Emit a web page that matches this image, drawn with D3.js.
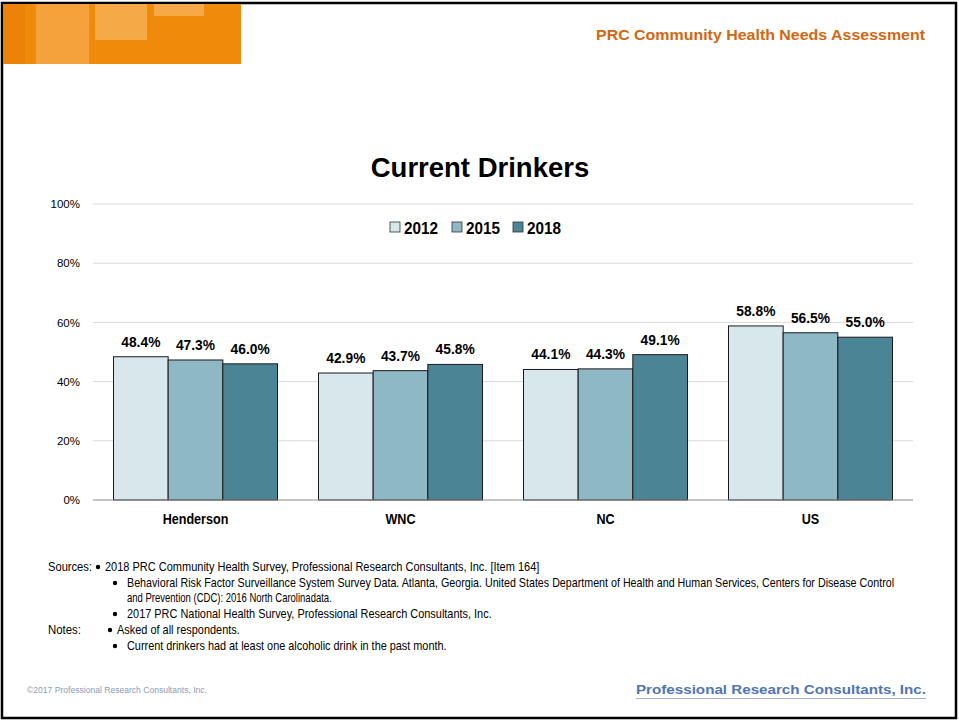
<!DOCTYPE html>
<html><head><meta charset="utf-8">
<script src="https://cdn.jsdelivr.net/npm/d3@7"></script>
<style>
html,body{margin:0;padding:0;background:#fff;}
svg{display:block;}
</style></head>
<body>
<svg id="c" width="959" height="721"></svg>
<script>
const categories = ["Henderson", "WNC", "NC", "US"];
const years = ["2012", "2015", "2018"];
const v2012 = [48.4, 42.9, 44.1, 58.8];
const v2015 = [47.3, 43.7, 44.3, 56.5];
const v2018 = [46.0, 45.8, 49.1, 55.0];
const yTicks = [0, 20, 40, 60, 80, 100];
const colors = ["#d8e7eb", "#8fb8c5", "#4b8495"];
const sourceHeads = ["Sources:", "", "", "", "Notes:", ""];
const sourceLines = [
  "2018 PRC Community Health Survey, Professional Research Consultants, Inc. [Item 164]",
  "Behavioral Risk Factor Surveillance System Survey Data. Atlanta, Georgia. United States Department of Health and Human Services, Centers for Disease Control",
  "and Prevention (CDC): 2016 North Carolinadata.",
  "2017 PRC National Health Survey, Professional Research Consultants, Inc.",
  "Asked of all respondents.",
  "Current drinkers had at least one alcoholic drink in the past month."
];
const sourceBullets = [true, true, false, true, true, true];

const series = [v2012, v2015, v2018];
const SANS = "'Liberation Sans',Arial,sans-serif";
const svg = d3.select("#c");

// page border
svg.append("rect").attr("x", 2).attr("y", 3).attr("width", 954).attr("height", 715)
  .attr("fill", "none").attr("stroke", "#000").attr("stroke-width", 2.5);

// header orange block
const hdr = svg.append("g");
hdr.append("rect").attr("x", 3).attr("y", 4).attr("width", 238).attr("height", 60).attr("fill", "#ef8a0a");
hdr.append("rect").attr("x", 36).attr("y", 4).attr("width", 53).attr("height", 60).attr("fill", "#f6a94d").attr("opacity", 0.75);
hdr.append("rect").attr("x", 95).attr("y", 4).attr("width", 52).attr("height", 36).attr("fill", "#f8b45c").attr("opacity", 0.75);
hdr.append("rect").attr("x", 154).attr("y", 4).attr("width", 50).attr("height", 12).attr("fill", "#f8b45c").attr("opacity", 0.75);
hdr.append("rect").attr("x", 3).attr("y", 4).attr("width", 22).attr("height", 60).attr("fill", "#ec8208");

svg.append("text").attr("x", 596).attr("y", 40)
  .attr("font-family", SANS).attr("font-weight", "bold").attr("font-size", 15.5)
  .attr("textLength", 329).attr("lengthAdjust", "spacingAndGlyphs")
  .attr("fill", "#d2670f").text("PRC Community Health Needs Assessment");

// title
svg.append("text").attr("x", 480).attr("y", 177).attr("text-anchor", "middle")
  .attr("font-family", SANS).attr("font-weight", "bold").attr("font-size", 27.5)
  .attr("fill", "#000").text("Current Drinkers");

// scales
const x0 = d3.scaleBand().domain(categories).range([93, 913]).paddingInner(0.2).paddingOuter(0.1);
const x1 = d3.scaleBand().domain(years).range([0, x0.bandwidth()]);
const y = d3.scaleLinear().domain([0, 100]).range([500, 204]);

// grid
svg.append("g").selectAll("line").data(yTicks.filter(t => t > 0)).join("line")
  .attr("x1", 93).attr("x2", 913).attr("y1", d => y(d)).attr("y2", d => y(d))
  .attr("stroke", "#d9d9d9").attr("stroke-width", 1);

// y axis labels
const yAxis = d3.axisLeft(y).tickValues(yTicks).tickFormat(d => d + "%").tickSize(0).tickPadding(0);
const ya = svg.append("g").attr("transform", "translate(80,0)").call(yAxis);
ya.select(".domain").remove();
ya.selectAll("text").attr("font-family", SANS).attr("font-size", 11.5).attr("fill", "#000");

// bars
const groups = svg.append("g").selectAll("g").data(categories).join("g")
  .attr("transform", d => `translate(${x0(d)},0)`);
const cells = (d, i) => years.map((yr, j) => ({yr, v: series[j][i], j}));
groups.selectAll("rect").data(cells).join("rect")
  .attr("x", d => x1(d.yr)).attr("width", x1.bandwidth())
  .attr("y", d => y(d.v)).attr("height", d => y(0) - y(d.v))
  .attr("fill", d => colors[d.j]).attr("stroke", "#1a1a1a").attr("stroke-width", 1);
groups.selectAll("text").data(cells).join("text")
  .attr("transform", d => `translate(${x1(d.yr) + x1.bandwidth() / 2},${y(d.v) - 10}) scale(0.92,1)`)
  .attr("text-anchor", "middle").attr("font-family", SANS).attr("font-weight", "bold")
  .attr("font-size", 15).attr("fill", "#000").text(d => d.v.toFixed(1) + "%");

// baseline
svg.append("line").attr("x1", 93).attr("x2", 913).attr("y1", y(0)).attr("y2", y(0))
  .attr("stroke", "#8c8c8c").attr("stroke-width", 1.2);

// x axis
const xAxis = d3.axisBottom(x0).tickSize(0).tickPadding(0);
const xa = svg.append("g").attr("transform", `translate(0,${y(0) + 14})`).call(xAxis);
xa.select(".domain").remove();
xa.selectAll("text").attr("font-family", SANS).attr("font-weight", "bold").attr("font-size", 14)
  .attr("fill", "#000");
xa.selectAll(".tick").each(function() {
  const t = d3.select(this);
  const m = /translate\(([^,]+),([^)]+)\)/.exec(t.attr("transform"));
  t.attr("transform", `translate(${m[1]},${m[2]}) scale(0.9,1)`);
});

// legend
const leg = svg.append("g").attr("transform", "translate(390,228)");
const legX = [0, 62, 123];
years.forEach((yr, j) => {
  leg.append("rect").attr("x", legX[j]).attr("y", -6).attr("width", 10).attr("height", 10)
    .attr("fill", colors[j]).attr("stroke", "#333").attr("stroke-width", 0.8);
  leg.append("text").attr("x", legX[j] + 14).attr("y", 5.5).attr("font-family", SANS)
    .attr("font-weight", "bold").attr("font-size", 17).attr("textLength", 34)
    .attr("lengthAdjust", "spacingAndGlyphs").attr("fill", "#000").text(yr);
});

// sources
const src = svg.append("g").attr("font-family", SANS).attr("fill", "#000");
const lineY = [571, 587, 602, 618, 634, 650];
const bulletX = [98, 115, 115, 115, 110, 115];
const textX = [105, 127, 127, 127, 117, 127];
const textEnd = [540, 895, 332, 492, 240, 447];
sourceLines.forEach((txt, i) => {
  if (sourceHeads[i]) src.append("text").attr("x", 48).attr("y", lineY[i]).attr("font-size", 12)
    .attr("textLength", sourceHeads[i] === "Sources:" ? 44 : 33).attr("lengthAdjust", "spacingAndGlyphs").text(sourceHeads[i]);
  if (sourceBullets[i]) src.append("circle").attr("cx", bulletX[i]).attr("cy", lineY[i] - 4).attr("r", 2.2).attr("fill", "#000");
  const g = src.append("g").attr("transform", `translate(${textX[i]},${lineY[i]})`);
  const t = g.append("text").attr("x", 0).attr("y", 0).attr("font-size", 12).text(txt);
  const w = t.node().getComputedTextLength();
  g.attr("transform", `translate(${textX[i]},${lineY[i]}) scale(${(textEnd[i] - textX[i]) / w},1)`);
});

// footer
svg.append("text").attr("x", 27).attr("y", 693).attr("font-family", SANS).attr("font-size", 8.5)
  .attr("textLength", 180).attr("lengthAdjust", "spacingAndGlyphs")
  .attr("fill", "#8c9bb5").text("©2017 Professional Research Consultants, Inc.");
svg.append("text").attr("x", 636).attr("y", 694).attr("font-family", SANS)
  .attr("font-weight", "bold").attr("font-size", 13).attr("textLength", 290)
  .attr("lengthAdjust", "spacingAndGlyphs").attr("fill", "#4f74b8")
  .text("Professional Research Consultants, Inc.");
svg.append("line").attr("x1", 636).attr("x2", 926).attr("y1", 698.5).attr("y2", 698.5)
  .attr("stroke", "#9fb3d6").attr("stroke-width", 1);
</script>
</body></html>
